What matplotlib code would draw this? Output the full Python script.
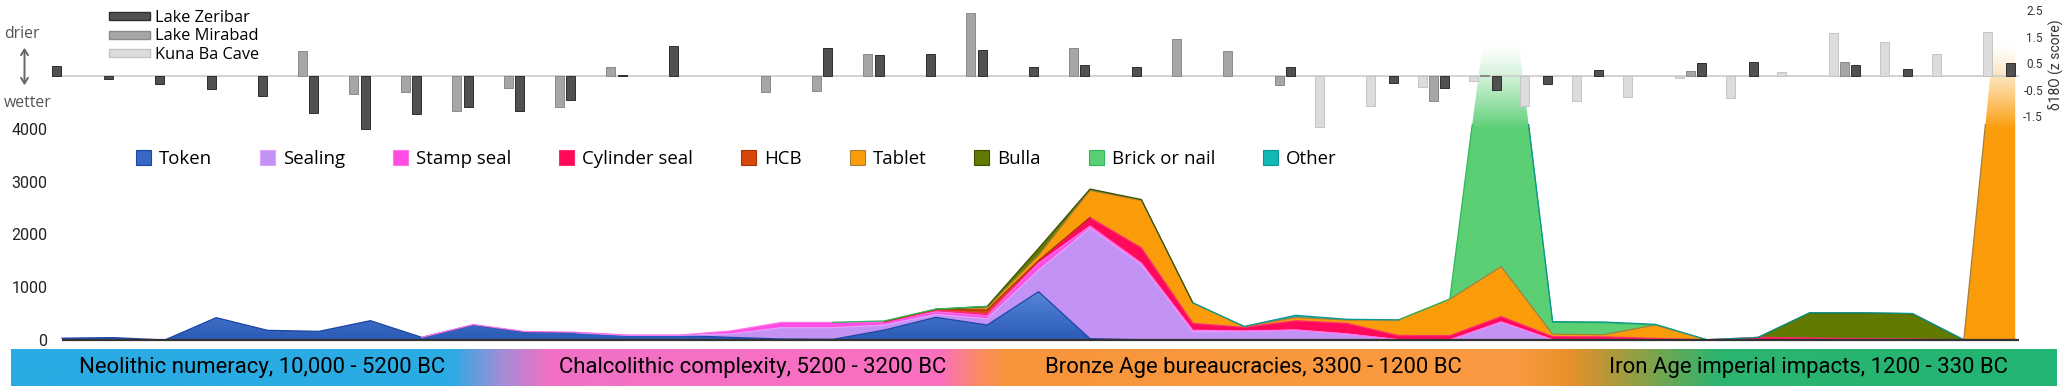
import numpy as np
import matplotlib
matplotlib.use("Agg")
import matplotlib.pyplot as plt
from matplotlib.patches import Patch, Polygon, Rectangle, FancyArrowPatch
from matplotlib.colors import LinearSegmentedColormap, to_rgb

nan = np.nan

# ---------------- data ----------------
bins = np.arange(39)  # successive time bins, 10,000 BC -> 330 BC

token    = [35, 45, 0, 423, 183, 164, 366, 50, 284, 151, 139, 85, 85, 50, 19, 13, 189, 429, 284, 915,
            25, 5, 5, 0, 0, 0, 0, 0, 0, 0, 0, 0, 0, 0, 0, 0, 0, 0, 0]
sealing  = [0, 0, 0, 0, 0, 0, 0, 0, 0, 0, 0, 3, 3, 64, 214, 220, 95, 57, 120, 410,
            2094, 1420, 150, 165, 185, 110, 5, 0, 334, 5, 0, 0, 0, 0, 0, 0, 0, 0, 0]
stamp    = [0, 0, 0, 0, 0, 0, 0, 0, 8, 10, 8, 5, 5, 56, 101, 101, 63, 50, 57, 126,
            40, 30, 30, 5, 5, 5, 0, 0, 10, 0, 0, 0, 0, 0, 0, 0, 0, 0, 0]
cylinder = [0, 0, 0, 0, 0, 0, 0, 0, 0, 0, 0, 0, 0, 0, 0, 0, 0, 25, 37, 45,
            160, 290, 130, 70, 175, 200, 80, 82, 100, 60, 60, 30, 5, 50, 38, 25, 19, 3, 10]
hcb      = [0, 0, 0, 0, 0, 0, 0, 0, 0, 0, 0, 0, 0, 0, 0, 0, 0, 20, 70, 10,
            0, 0, 0, 0, 0, 0, 0, 0, 0, 0, 0, 0, 0, 0, 0, 0, 0, 0, 0]
tablet   = [0, 0, 0, 0, 0, 0, 0, 0, 0, 0, 0, 0, 0, 0, 0, 0, 0, 0, 44, 100,
            515, 900, 390, 12, 63, 63, 295, 690, 946, 45, 40, 255, 0, 0, 0, 0, 0, 0, 9700]
bulla    = [0, 0, 0, 0, 0, 0, 0, 0, 0, 0, 0, 0, 0, 0, 0, 0, 0, 0, 25, 130,
            25, 15, 0, 0, 0, 0, 0, 0, 0, 0, 0, 0, 0, 0, 473, 486, 479, 0, 0]
brick    = [0, 0, 0, 0, 0, 0, 0, 0, 0, 0, 0, 0, 0, 0, 0, 0, 15, 5, 0, 0,
            0, 0, 0, 0, 0, 0, 0, 5, 6950, 225, 228, 0, 0, 0, 0, 0, 0, 0, 0]
other    = [0, 0, 0, 0, 0, 0, 0, 0, 0, 0, 0, 0, 0, 0, 0, 0, 0, 0, 0, 0,
            0, 0, 0, 5, 40, 15, 0, 0, 0, 12, 13, 12, 0, 0, 5, 5, 5, 0, 0]

artefact_names = ["Token", "Sealing", "Stamp seal", "Cylinder seal", "HCB",
                  "Tablet", "Bulla", "Brick or nail", "Other"]

# delta 18O z-scores per bin
zeribar = [0.40, -0.10, -0.30, -0.49, -0.73, -1.40, -1.99, -1.41, -1.17, -1.32, -0.89, 0.05, 1.15,
           nan, nan, 1.08, 0.80, 0.83, 0.99, 0.36, 0.43, 0.34, nan, nan, 0.35, nan, -0.26, -0.43,
           -0.52, -0.29, 0.24, nan, 0.51, 0.55, nan, 0.43, 0.26, nan, 0.51]
mirabad = [nan, nan, nan, nan, nan, 0.95, -0.68, -0.60, -1.32, -0.44, -1.15, 0.34, nan,
           nan, -0.60, -0.54, 0.84, nan, 2.38, nan, 1.06, nan, 1.40, 0.95, -0.33, nan, nan, -0.93,
           0.05, nan, nan, nan, 0.21, nan, nan, 0.55, nan, nan, nan]
kunaba  = [nan, nan, nan, nan, nan, nan, nan, nan, nan, nan, nan, nan, nan,
           nan, nan, nan, nan, nan, nan, nan, nan, nan, nan, nan, nan, -1.90, -1.11, -0.39,
           -0.17, -1.11, -0.92, -0.77, -0.08, -0.83, 0.15, 1.62, 1.31, 0.83, 1.68]
proxy_names = ["Lake Zeribar", "Lake Mirabad", "Kuna Ba Cave"]
z_ticks = [2.5, 1.5, 0.5, -0.5, -1.5]
count_ticks = [0, 1000, 2000, 3000, 4000]

periods = ["Neolithic numeracy, 10,000 - 5200 BC",
           "Chalcolithic complexity, 5200 - 3200 BC",
           "Bronze Age bureaucracies, 3300 - 1200 BC",
           "Iron Age imperial impacts, 1200 - 330 BC"]

# ---------------- style ----------------
fills = ["#3868c6", "#c392f5", "#ff4de3", "#ff0a5a", "#d6470c",
         "#fb9c0a", "#617a00", "#5bcf74", "#12b8b3"]
edges = ["#1c45a3", "#e3a0ff", "#ff73ea", "#ff2d6e", "#a83200",
         "#a08040", "#3a5200", "#2fb85a", "#0b9894"]
token_grad = ["#2b5ab6", "#5a8bda"]
bar_fc = ["#515151", "#a6a6a6", "#dcdcdc"]
bar_ec = ["#2e2e2e", "#8a8a8a", "#c4c4c4"]
plt.rcParams["font.family"] = ["Roboto", "DejaVu Sans"]
LABEL_FONT = ["Open Sans", "DejaVu Sans"]
BAND_FONT = ["Roboto", "DejaVu Sans"]

W, H = 2067, 390
fig = plt.figure(figsize=(W / 100, H / 100), dpi=100)
renderer = fig.canvas.get_renderer()


def text_width(s, family, size):
    t = fig.text(0, 0, s, family=family, size=size)
    w = t.get_window_extent(renderer).width
    t.remove()
    return w


def fit_size(s, family, target_px, base=12.0):
    return base * target_px / text_width(s, family, base)


x0_px, dx_px = 62.0, 51.4
xlo, xhi = -0.26, 38.2
ax_left = (x0_px + xlo * dx_px) / W
ax_w = (xhi - xlo) * dx_px / W

# ---------------- area (counts) axes ----------------
px_per_k = 52.8
zero_px = 340.0
ax_bottom_px = 345.0
ylo = -(ax_bottom_px - zero_px) / px_per_k * 1000
yhi = zero_px / px_per_k * 1000
ax = fig.add_axes([ax_left, 1 - ax_bottom_px / H, ax_w, ax_bottom_px / H])
ax.set_xlim(xlo, xhi)
ax.set_ylim(ylo, yhi)
for s in ax.spines.values():
    s.set_visible(False)
ax.set_xticks([])
ax.set_yticks(count_ticks)
ax.set_yticklabels([str(v) for v in count_ticks])
tick_size = fit_size("4000", ["Roboto", "DejaVu Sans"], 36)
ax.tick_params(axis="y", length=0, pad=1, labelsize=tick_size, labelcolor="#222222")

layers = [np.asarray(v, float) for v in
          [token, sealing, stamp, cylinder, hcb, tablet, bulla, brick, other]]
x = bins.astype(float)
bottom = np.zeros_like(x)
tops = []
Hh = 700
yy = np.linspace(ylo, yhi, Hh)
tt = np.clip((5600.0 - yy) / (5600.0 - 4000.0), 0, 1)
alpha_ramp = tt ** 1.3


def gradient_fill(rgba, top, bot):
    im = ax.imshow(rgba, extent=[xlo, xhi, ylo, yhi], origin="lower",
                   aspect="auto", interpolation="bilinear", zorder=2)
    verts = np.column_stack([np.r_[x, x[::-1]], np.r_[top, bot[::-1]]])
    im.set_clip_path(Polygon(verts, closed=True, transform=ax.transData))


for i, vals in enumerate(layers):
    top = bottom + vals
    if i == 0:
        c0, c1 = np.array(to_rgb(token_grad[0])), np.array(to_rgb(token_grad[1]))
        f = np.clip(yy / 1000.0, 0, 1)[:, None]
        rgba = np.ones((Hh, 2, 4))
        rgba[..., :3] = (c0 + (c1 - c0) * f)[:, None, :]
        gradient_fill(rgba, top, bottom)
    elif top.max() > 4000:
        rgba = np.zeros((Hh, 2, 4))
        rgba[..., :3] = to_rgb(fills[i])
        rgba[..., 3] = alpha_ramp[:, None]
        gradient_fill(rgba, top, bottom)
    else:
        ax.fill_between(x, bottom, top, facecolor=fills[i], edgecolor="none",
                        linewidth=0, zorder=2)
    tops.append(top.copy())
    bottom = top
ax.set_xlim(xlo, xhi)
ax.set_ylim(ylo, yhi)

clip_rect = Rectangle((xlo, ylo), xhi - xlo, 4100 - ylo, transform=ax.transData)
for i, vals in enumerate(layers):
    m = vals > 0
    m_ext = m.copy()
    m_ext[1:] |= m[:-1]
    m_ext[:-1] |= m[1:]
    ln, = ax.plot(x, np.where(m_ext, tops[i], np.nan), color=edges[i], lw=0.9, zorder=3)
    ln.set_clip_path(clip_rect)

ax.plot([x[0], x[-1] + 0.08], [0, 0], color="#333333", lw=1.6, zorder=4,
        solid_capstyle="butt")

# legend of artefact types: fit font to text widths, spacing to total span
leg_size = fit_size("Cylinder seal", LABEL_FONT, 110)
fs_px = leg_size * 100 / 72
hl, htp = 15.0 / fs_px, 8.0 / fs_px
widths = [text_width(n, LABEL_FONT, leg_size) for n in artefact_names]
span_target = 1263 - 136
fixed = sum(widths[:-1]) + 8 * (hl + htp) * fs_px
colsp = max(0.5, (span_target - fixed) / 8 / fs_px)
handles = [Patch(facecolor=fills[i], edgecolor=edges[i], linewidth=0.8)
           for i in range(len(artefact_names))]
handles[0] = Patch(facecolor=fills[0], edgecolor=edges[0], linewidth=0.8)
ax.legend(handles, artefact_names, ncol=9, loc="center left",
          bbox_to_anchor=(136 / W, 1 - 159 / H), bbox_transform=fig.transFigure,
          frameon=False, prop={"family": LABEL_FONT, "size": leg_size},
          handlelength=hl, handleheight=hl,
          handletextpad=htp, columnspacing=colsp, borderpad=0, borderaxespad=0)

# ---------------- proxy bar axes ----------------
bar_h_px = 130.0
zero_bar_px = 76.3
px_per_z = 26.5
axb = fig.add_axes([ax_left, 1 - bar_h_px / H, ax_w, bar_h_px / H])
axb.patch.set_alpha(0)
axb.set_xlim(xlo, xhi)
axb.set_ylim(-(bar_h_px - zero_bar_px) / px_per_z, zero_bar_px / px_per_z)
for s in axb.spines.values():
    s.set_visible(False)
axb.set_xticks([])
axb.axhline(0, xmin=(-0.12 - xlo) / (xhi - xlo), xmax=(38.06 - xlo) / (xhi - xlo),
            color="#cfcfcf", lw=1.3, zorder=1)
offsets = [-0.1, -0.32, -0.54]
bw = 0.175
for j, series in enumerate([zeribar, mirabad, kunaba]):
    v = np.asarray(series, float)
    ok = ~np.isnan(v)
    axb.bar(x[ok] + offsets[j], v[ok], width=bw, color=bar_fc[j],
            edgecolor=bar_ec[j], linewidth=0.7, zorder=3)
axb.yaxis.tick_right()
axb.set_yticks(z_ticks)
axb.set_yticklabels([f"{t:g}" for t in z_ticks])
axb.tick_params(axis="y", length=0, pad=12.6, labelsize=8.5, labelcolor="#333333")
for lbl in axb.get_yticklabels():
    lbl.set_horizontalalignment("right")
axb.yaxis.set_label_position("right")
axb.set_ylabel("δ18O (z score)", fontsize=10, color="#333333", labelpad=4, rotation=90)

# proxy legend: fit size and row spacing
pl_size = fit_size("Lake Zeribar", LABEL_FONT, 94)
pl_px = pl_size * 100 / 72
bh = [Patch(facecolor=bar_fc[j], edgecolor=bar_ec[j], linewidth=1.0) for j in range(3)]


def proxy_legend(ls, anchor_top):
    return axb.legend(bh, proxy_names, loc="upper left",
                      bbox_to_anchor=(109 / W, 1 - anchor_top / H),
                      bbox_transform=fig.transFigure, frameon=False,
                      prop={"family": LABEL_FONT, "size": pl_size},
                      handlelength=41 / pl_px, handleheight=6 / pl_px,
                      handletextpad=5 / pl_px, labelspacing=ls,
                      borderpad=0, borderaxespad=0)


ls0, top0 = 0.1, 8.0
leg = proxy_legend(ls0, top0)
fig.canvas.draw()
ext = [t.get_window_extent(renderer) for t in leg.get_texts()]
cy = [(e.y0 + e.y1) / 2 for e in ext]
step = (cy[0] - cy[2]) / 2
ls1 = ls0 + (18.5 - step) / pl_px
first_c = H - cy[0]
leg.remove()
leg = proxy_legend(ls1, top0 + (18.0 - first_c))

dw_size = fit_size("wetter", LABEL_FONT, 47)
fig.text(4 / W, 1 - 34 / H, "drier", fontsize=dw_size, family=LABEL_FONT,
         color="#555555", va="center", ha="left")
fig.text(4 / W, 1 - 103 / H, "wetter", fontsize=dw_size, family=LABEL_FONT,
         color="#555555", va="center", ha="left")
fig.add_artist(FancyArrowPatch(
    (24.5 / W, 1 - 88 / H), (24.5 / W, 1 - 45 / H), transform=fig.transFigure,
    arrowstyle="<->,head_length=4,head_width=2.5", color="#666666", lw=1.4))

# ---------------- period band ----------------
band_l, band_r, band_t, band_b = 10.5, 2056.0, 349.0, 386.0
axp = fig.add_axes([band_l / W, 1 - band_b / H, (band_r - band_l) / W, (band_b - band_t) / H])
axp.set_axis_off()
span = band_r - band_l
stops_px = [10.5, 448, 495, 545, 940, 975, 1005, 1520, 1570, 1640, 1720, 2056]
stops_col = ["#2aabe3", "#2aabe3", "#9b8fd8", "#f171c6", "#fb6fc0", "#fb8a6a",
             "#f8953c", "#fb9a42", "#e98f2a", "#8fa045", "#2cb46f", "#22b573"]
cmap = LinearSegmentedColormap.from_list(
    "periods", [((p - band_l) / span, c) for p, c in zip(stops_px, stops_col)])
axp.imshow(np.linspace(0, 1, 1200)[None, :], cmap=cmap, aspect="auto",
           extent=[0, 1, 0, 1], interpolation="bilinear")
axp.set_xlim(0, 1)
axp.set_ylim(0, 1)
band_size = fit_size(periods[0], BAND_FONT, 366)
centers_px = [262, 753, 1253, 1808]
for name, c in zip(periods, centers_px):
    axp.text((c - band_l) / span, 0.5, name, ha="center", va="center",
             fontsize=band_size, family=BAND_FONT, color="#000000")

fig.savefig("out.png", dpi=100)
